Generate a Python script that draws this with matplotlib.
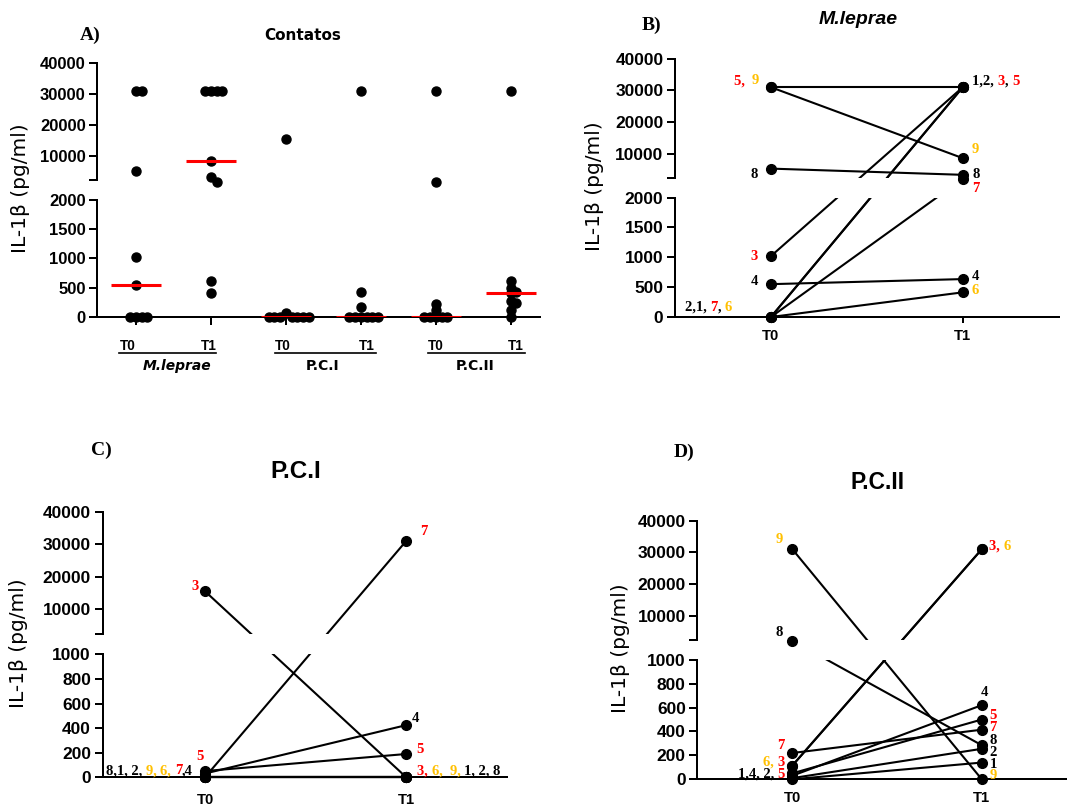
import numpy as np
import matplotlib
matplotlib.use("Agg")
import matplotlib.pyplot as plt
from matplotlib.lines import Line2D
from matplotlib.ticker import NullLocator
from matplotlib.transforms import IdentityTransform
from matplotlib.font_manager import FontProperties

W, H, DPI = 1067, 805, 100
RED = "#FF0000"
GOLD = "#FFC000"
INK = "black"

# ---------------- data (IL-1beta, pg/ml) ----------------
groups = ["M.leprae", "P.C.I", "P.C.II"]
times = ["T0", "T1"]

# Panel A: all contacts per stimulus and time point
mlep_t0 = [31000, 31000, 5400, 1020, 550, 0, 0, 0, 0]
mlep_t1 = [31000, 31000, 31000, 31000, 8600, 3300, 2280, 610, 410]
pc1_t0 = [15600, 60, 0, 0, 0, 0, 0, 0, 0]
pc1_t1 = [31000, 420, 170, 0, 0, 0, 0, 0, 0]
pc2_t0 = [31000, 2280, 220, 115, 0, 0, 0, 0, 0]
pc2_t1 = [31000, 610, 500, 430, 400, 270, 230, 125, 0]

# Panels B-D: paired values for contacts 1..9
subjects = [1, 2, 3, 4, 5, 6, 7, 8, 9]
mlep_pair_t0 = [0, 0, 1020, 550, 31000, 0, 0, 5300, 31000]
mlep_pair_t1 = [31000, 31000, 31000, 635, 31000, 413, 2290, 3340, 8600]
pc1_pair_t0 = [0, 0, 15550, 30, 50, 0, 0, 0, 0]
pc1_pair_t1 = [0, 0, 0, 424, 189, 0, 31000, 0, 0]
pc2_pair_t0 = [0, 10, 115, 30, 50, 115, 220, 2270, 31000]
pc2_pair_t1 = [140, 255, 31000, 620, 500, 31000, 415, 285, 0]

upper_ticks = [10000, 20000, 30000, 40000]
lower_ticks_2000 = [0, 500, 1000, 1500, 2000]
lower_ticks_1000 = [0, 200, 400, 600, 800, 1000]

TOP = 40000
HIGH_START = 2300
GAP = 0.163

fig = plt.figure(figsize=(W / DPI, H / DPI), dpi=DPI)
renderer = fig.canvas.get_renderer()


def px_axes(left, top, right, bottom):
    return fig.add_axes([left / W, 1 - bottom / H, (right - left) / W, (bottom - top) / H])


def broken_scale(low_top, high_start=HIGH_START, top=TOP, gap=GAP):
    def fwd(v):
        v = np.asarray(v, dtype=float)
        return np.where(v <= low_top, v / low_top,
                        np.where(v < high_start,
                                 1 + gap * (v - low_top) / (high_start - low_top),
                                 1 + gap + (v - high_start) / (top - high_start)))

    def inv(p):
        p = np.asarray(p, dtype=float)
        return np.where(p <= 1, p * low_top,
                        np.where(p < 1 + gap,
                                 low_top + (p - 1) / gap * (high_start - low_top),
                                 high_start + (p - 1 - gap) * (top - high_start)))
    return fwd, inv


def setup_broken(ax, low_top, low_ticks, xlim, tick_size):
    ax.set_yscale("function", functions=broken_scale(low_top))
    ax.set_ylim(0, TOP)
    ax.set_xlim(*xlim)
    ax.set_autoscale_on(False)
    ticks = list(low_ticks) + [HIGH_START] + upper_ticks
    labels = [str(t) for t in low_ticks] + [""] + [str(t) for t in upper_ticks]
    ax.set_yticks(ticks)
    ax.set_yticklabels(labels)
    for lab in ax.get_yticklabels():
        lab.set_fontfamily("Liberation Sans")
        lab.set_fontweight("bold")
        lab.set_fontsize(tick_size)
    ax.yaxis.set_minor_locator(NullLocator())
    ax.tick_params(axis="y", length=5.8, width=1.44, direction="out", pad=2.5)
    for s in ("top", "right", "left"):
        ax.spines[s].set_visible(False)
    ax.spines["bottom"].set_linewidth(1.44)
    yt = ax.get_yaxis_transform()
    for lo, hi in ((0, low_top), (HIGH_START, TOP)):
        ax.plot([0, 0], [lo, hi], transform=yt, color=INK, lw=1.44,
                clip_on=False, solid_capstyle="projecting", zorder=6)
    # blank band that interrupts everything drawn across the axis break
    ax.axhspan(low_top, HIGH_START, color="white", lw=0, zorder=3)
    ax.patch.set_alpha(0)


def swarm_x(ax, x0, values, step_px=5.7, min_dist=5.5):
    pts = ax.transData.transform(np.column_stack([np.full(len(values), float(x0)),
                                                  np.asarray(values, float)]))
    ys = pts[:, 1]
    px_per_unit = (ax.transData.transform([[1, 0]])[0, 0]
                   - ax.transData.transform([[0, 0]])[0, 0])
    cands = [0] + [s * j for j in range(1, 12) for s in (1, -1)]
    placed, offs = [], np.zeros(len(values))
    for i in np.argsort(-np.asarray(values, float), kind="stable"):
        for c in cands:
            dx = c * step_px
            if all(np.hypot(dx - ox, ys[i] - oy) >= min_dist for ox, oy in placed):
                break
        placed.append((dx, ys[i]))
        offs[i] = dx
    return x0 + offs / px_per_unit


label_prop = FontProperties(family="Liberation Serif", weight="bold", size=10.5)


def text_w(s, prop):
    w1 = renderer.get_text_width_height_descent(s + "|", prop, ismath=False)[0]
    w2 = renderer.get_text_width_height_descent("|", prop, ismath=False)[0]
    return w1 - w2


def colored_label(x, y, pieces, align="left", prop=label_prop):
    widths = [text_w(s, prop) for s, _ in pieces]
    total = sum(widths)
    start = x - total if align == "right" else (x - total / 2 if align == "center" else x)
    cx = start
    for (s, c), w in zip(pieces, widths):
        fig.text(cx, H - y, s, color=c, fontproperties=prop, ha="left", va="center",
                 transform=IdentityTransform())
        cx += w


def ftext(x, y, s, **kw):
    fig.text(x / W, 1 - y / H, s, **kw)


def paired_panel(ax, t0, t1):
    for a, b in zip(t0, t1):
        ax.plot([0, 1], [a, b], color=INK, lw=1.5, zorder=2, clip_on=False)
    ax.plot(np.zeros(len(t0)), t0, "o", ms=7, color=INK, zorder=5, clip_on=False)
    ax.plot(np.ones(len(t1)), t1, "o", ms=7, color=INK, zorder=5, clip_on=False)
    ax.set_xticks([0, 1])
    ax.set_xticklabels(times, fontfamily="Liberation Sans", fontweight="bold", fontsize=10.7)
    ax.tick_params(axis="x", length=4.3, width=1.44, direction="out", pad=4)


ylabel_kw = dict(rotation=90, ha="center", va="center", fontfamily="DejaVu Sans",
                 fontsize=14.5)
letter_kw = dict(ha="center", va="center", fontfamily="Liberation Serif",
                 fontweight="bold", fontsize=14)

# ---------------- A) Contatos ----------------
axA = px_axes(97.3, 63, 540, 316.9)
setup_broken(axA, 2000, lower_ticks_2000, (-0.516, 5.39), 12)
columns = [mlep_t0, mlep_t1, pc1_t0, pc1_t1, pc2_t0, pc2_t1]
axA.set_xticks(range(len(columns)))
axA.set_xticklabels([])
axA.tick_params(axis="x", length=5.5, width=1.44, direction="out")
for i, vals in enumerate(columns):
    xs = swarm_x(axA, i, vals)
    axA.plot(xs, vals, "o", ms=6.5, color=INK, ls="none", zorder=4, clip_on=False)
    axA.hlines(np.median(vals), i - 0.333, i + 0.333, color=RED, lw=2.2, zorder=5)

ftext(303, 35.5, "Contatos", ha="center", va="center", fontfamily="DejaVu Sans",
      fontweight="bold", fontsize=11)
ftext(90.4, 35, "A)", **letter_kw)
ftext(20.7, 188, "IL-1β (pg/ml)", **ylabel_kw)

tlab_kw = dict(ha="center", va="center", fontfamily="Liberation Sans",
               fontweight="bold", fontsize=9.8)
group_kw = dict(ha="center", va="center", fontfamily="DejaVu Sans",
                fontweight="bold", fontsize=10)
group_spans = [(119, 216), (275, 376), (428, 525)]
group_t_x = [(127.5, 209), (283, 367), (436, 516)]
group_name_x = [176.7, 323, 475]
for g, (x0, x1), (tx0, tx1), gx in zip(groups, group_spans, group_t_x, group_name_x):
    ftext(tx0, 346.5, times[0], **tlab_kw)
    ftext(tx1, 346.5, times[1], **tlab_kw)
    fig.add_artist(Line2D([x0 / W, x1 / W], [1 - 352.6 / H] * 2, color=INK, lw=1.2))
    style = "italic" if g == "M.leprae" else "normal"
    ftext(gx, 365.5, g, fontstyle=style, **group_kw)

# ---------------- B) M.leprae ----------------
axB = px_axes(675, 58.7, 1058.7, 317)
setup_broken(axB, 2000, lower_ticks_2000, (-0.5, 1.5), 12.5)
paired_panel(axB, mlep_pair_t0, mlep_pair_t1)
ftext(858, 20, "M.leprae", ha="center", va="center", fontfamily="Liberation Sans",
      fontweight="bold", fontstyle="italic", fontsize=14)
ftext(651, 25.7, "B)", **letter_kw)
ftext(595, 186, "IL-1β (pg/ml)", **ylabel_kw)

colored_label(759.3, 80.7, [("5,  ", RED), ("9", GOLD)], align="right")
colored_label(972.3, 81, [("1,2, ", INK), ("3", RED), (", ", INK), ("5", RED)])
colored_label(972, 149, [("9", GOLD)])
colored_label(758, 174, [("8", INK)], align="right")
colored_label(972.3, 174.3, [("8", INK)])
colored_label(972.3, 188.3, [("7", RED)])
colored_label(758, 256, [("3", RED)], align="right")
colored_label(758, 281.7, [("4", INK)], align="right")
colored_label(972, 276.7, [("4", INK)])
colored_label(972, 290.7, [("6", GOLD)])
colored_label(685, 307.3, [("2,1, ", INK), ("7", RED), (", ", INK), ("6", GOLD)])

# ---------------- C) P.C.I ----------------
axC = px_axes(102.5, 511.7, 506.7, 777.2)
setup_broken(axC, 1000, lower_ticks_1000, (-0.51, 1.5), 12.5)
paired_panel(axC, pc1_pair_t0, pc1_pair_t1)
axC.tick_params(axis="x", pad=7)
ftext(296, 471, "P.C.I", ha="center", va="center", fontfamily="Liberation Sans",
      fontweight="bold", fontsize=17.5)
ftext(101, 450, "C)", **letter_kw)
ftext(19, 643, "IL-1β (pg/ml)", **ylabel_kw)

colored_label(106, 770.7, [("8,1, 2, ", INK), ("9, ", GOLD), ("6, ", GOLD),
                           ("7", RED), (",4", INK)])
colored_label(200, 756.7, [("5", RED)], align="center")
colored_label(417.3, 770.7, [("3, ", RED), ("6,  ", GOLD), ("9, ", GOLD),
                             ("1, 2, 8", INK)])
colored_label(416.7, 749.3, [("5", RED)])
colored_label(411.5, 718.3, [("4", INK)])
colored_label(420, 531, [("7", RED)])
colored_label(199, 586.7, [("3", RED)], align="right")

# ---------------- D) P.C.II ----------------
axD = px_axes(697.3, 520.7, 1067, 779.3)
setup_broken(axD, 1000, lower_ticks_1000, (-0.502, 1.45), 12.5)
paired_panel(axD, pc2_pair_t0, pc2_pair_t1)
ftext(878, 482, "P.C.II", ha="center", va="center", fontfamily="Liberation Sans",
      fontweight="bold", fontsize=16.5)
ftext(684.5, 452.5, "D)", **letter_kw)
ftext(620, 648, "IL-1β (pg/ml)", **ylabel_kw)

colored_label(783.3, 539.3, [("9", GOLD)], align="right")
colored_label(989, 546, [("3, ", RED), ("6", GOLD)])
colored_label(783.3, 632.3, [("8", INK)], align="right")
colored_label(980.7, 692.7, [("4", INK)])
colored_label(989.3, 715.7, [("5", RED)])
colored_label(989.3, 727.3, [("7", RED)])
colored_label(989.3, 740, [("8", INK)])
colored_label(989.3, 752.7, [("2", INK)])
colored_label(989.3, 764, [("1", INK)])
colored_label(989.3, 775.5, [("9", GOLD)])
colored_label(785, 745, [("7", RED)], align="right")
colored_label(785, 762.3, [("6, ", GOLD), ("3", RED)], align="right")
colored_label(785, 774, [("1,4, 2, ", INK), ("5", RED)], align="right")

fig.savefig("out.png", dpi=DPI)
